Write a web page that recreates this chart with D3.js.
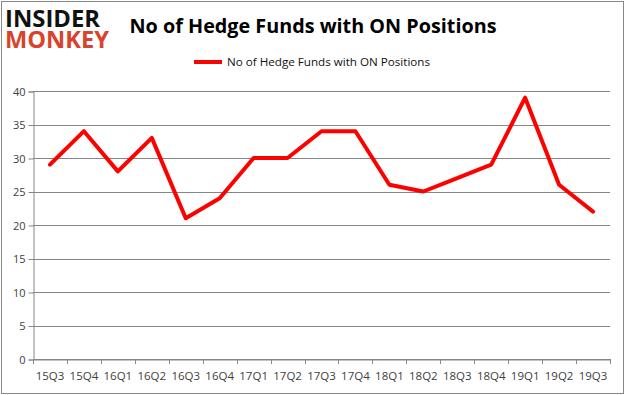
<!DOCTYPE html>
<html>
<head>
<meta charset="utf-8">
<script src="https://cdn.jsdelivr.net/npm/d3@7"></script>
<style>
  body { margin: 0; background: #fff; }
  text { font-family: "Open Sans", "DejaVu Sans", sans-serif; }
</style>
</head>
<body>
<div id="chart"></div>
<script>
var quarters = ["15Q3","15Q4","16Q1","16Q2","16Q3","16Q4","17Q1","17Q2","17Q3","17Q4",
                "18Q1","18Q2","18Q3","18Q4","19Q1","19Q2","19Q3"];
var funds = [29,34,28,33,21,24,30,30,34,34,26,25,27,29,39,26,22];
var y_ticks = [0,5,10,15,20,25,30,35,40];
var series_name = "No of Hedge Funds with ON Positions";

var width = 625;
var height = 395;
var plot_left = 33;
var plot_right = 610;
var plot_top = 91;
var plot_bottom = 359;

var svg = d3.select("#chart")
            .append("svg")
            .attr("width", width)
            .attr("height", height);

// outer frame
svg.append("rect")
   .attr("x", 1.5).attr("y", 1.5)
   .attr("width", width - 3).attr("height", height - 3)
   .attr("fill", "#fff")
   .attr("stroke", "#888")
   .attr("stroke-width", 1);

// logo: one text, two lines (the words sit tight on top of each other)
var logo = svg.append("text")
   .attr("font-size", 23).attr("font-weight", "bold");
logo.append("tspan")
   .attr("x", 5).attr("y", 27)
   .attr("textLength", 95).attr("lengthAdjust", "spacingAndGlyphs")
   .attr("fill", "#111")
   .text("INSIDER");
logo.append("tspan")
   .attr("x", 5).attr("y", 48)
   .attr("textLength", 104).attr("lengthAdjust", "spacingAndGlyphs")
   .attr("fill", "#d9432b")
   .text("MONKEY");

// title
svg.append("text")
   .attr("x", 313).attr("y", 33)
   .attr("text-anchor", "middle")
   .attr("font-size", 20).attr("font-weight", "bold")
   .attr("textLength", 367).attr("lengthAdjust", "spacingAndGlyphs")
   .attr("fill", "#000")
   .text("No of Hedge Funds with ON Positions");

// legend
svg.append("line")
   .attr("x1", 194).attr("x2", 222)
   .attr("y1", 62).attr("y2", 62)
   .attr("stroke", "#ff0000").attr("stroke-width", 4);
svg.append("text")
   .attr("x", 227).attr("y", 66)
   .attr("font-size", 11.5)
   .attr("textLength", 203).attr("lengthAdjust", "spacingAndGlyphs")
   .attr("fill", "#111")
   .text(series_name);

// scales
var scale_x = d3.scaleBand()
                .domain(quarters)
                .range([plot_left, plot_right]);
var scale_y = d3.scaleLinear()
                .domain([0, 40])
                .range([plot_bottom, plot_top]);

// gridlines
svg.selectAll(".grid")
   .data(y_ticks)
   .enter()
   .append("line")
   .attr("class", "grid")
   .attr("x1", plot_left).attr("x2", plot_right)
   .attr("y1", function(d){ return Math.round(scale_y(d)) + 0.5; })
   .attr("y2", function(d){ return Math.round(scale_y(d)) + 0.5; })
   .attr("stroke", "#868686").attr("stroke-width", 1);

// y axis
var y_axis = svg.append("g")
   .attr("transform", "translate(" + (plot_left + 0.5) + ",0.5)")
   .call(d3.axisLeft(scale_y).tickValues(y_ticks).tickSize(5).tickPadding(3));
y_axis.select(".domain").attr("stroke", "#868686");
y_axis.selectAll(".tick line").attr("stroke", "#868686");
y_axis.selectAll(".tick text")
   .attr("font-size", 11).attr("fill", "#404040")
   .attr("font-family", "'Open Sans', 'DejaVu Sans', sans-serif");

// x axis
var x_axis = svg.append("g")
   .attr("transform", "translate(0," + (plot_bottom + 0.5) + ")")
   .call(d3.axisBottom(scale_x).tickSize(0).tickPadding(12));
x_axis.select(".domain").attr("stroke", "#868686");
x_axis.selectAll(".tick text")
   .attr("font-size", 11.5).attr("fill", "#404040")
   .attr("font-family", "'Open Sans', 'DejaVu Sans', sans-serif");

// x ticks between categories
var x_edges = quarters.map(function(q){ return scale_x(q); }).concat([plot_right]);
svg.selectAll(".xtick")
   .data(x_edges)
   .enter()
   .append("line")
   .attr("class", "xtick")
   .attr("x1", function(d){ return Math.round(d) + 0.5; })
   .attr("x2", function(d){ return Math.round(d) + 0.5; })
   .attr("y1", plot_bottom).attr("y2", plot_bottom + 5)
   .attr("stroke", "#868686");

// series line
var line = d3.line()
             .x(function(d, i){ return scale_x(quarters[i]) + scale_x.bandwidth() / 2; })
             .y(function(d){ return scale_y(d); });

svg.append("path")
   .datum(funds)
   .attr("d", line)
   .attr("fill", "none")
   .attr("stroke", "#ff0000")
   .attr("stroke-width", 4)
   .attr("stroke-linejoin", "round")
   .attr("stroke-linecap", "round");
</script>
</body>
</html>
